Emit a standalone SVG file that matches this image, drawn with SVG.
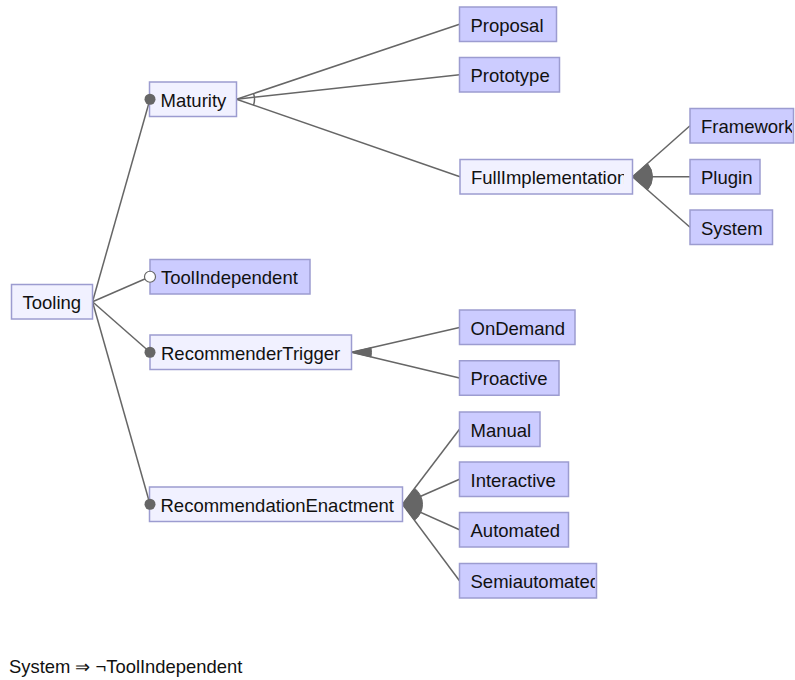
<svg xmlns="http://www.w3.org/2000/svg" width="795" height="680" viewBox="0 0 795 680">
  <style>
    .box { stroke: #9c9cd0; stroke-width: 1.5; }
    .abstract { fill: #f1f1ff; }
    .concrete { fill: #ccccff; }
    .label { font-family: "Liberation Sans", Arial, sans-serif; font-size: 18.5px; fill: #111; }
    .edge { stroke: #666; stroke-width: 1.5; fill: none; }
    .wedge { fill: #666; stroke: #666; stroke-width: 1; }
    .mand { fill: #666; }
    .opt { fill: #fff; stroke: #666; stroke-width: 1.2; }
    .constraint { font-family: "Liberation Sans", Arial, sans-serif; font-size: 18.4px; fill: #111; }
  </style>
  <defs>
    <clipPath id="clip-full"><rect x="460" y="159.5" width="164" height="34.5"/></clipPath>
    <clipPath id="clip-semi"><rect x="459.5" y="563.5" width="135.5" height="34.5"/></clipPath>
    <clipPath id="clip-frame"><rect x="690" y="108.5" width="102" height="34.5"/></clipPath>
  </defs>
  <rect width="795" height="680" fill="#fff"/>

  <!-- connectors -->
  <g id="connectors">
    <!-- Tooling children -->
    <line class="edge" x1="92.5" y1="301.75" x2="150" y2="99.25"/>
    <line class="edge" x1="92.5" y1="301.75" x2="150" y2="276.75"/>
    <line class="edge" x1="92.5" y1="301.75" x2="150" y2="352.25"/>
    <line class="edge" x1="92.5" y1="301.75" x2="150" y2="504.25"/>
    <!-- Maturity: alternative -->
    <line class="edge" x1="236.5" y1="99.25" x2="459.5" y2="24.25"/>
    <line class="edge" x1="236.5" y1="99.25" x2="459.5" y2="74.75"/>
    <line class="edge" x1="236.5" y1="99.25" x2="460" y2="176.75"/>
    <path class="edge" stroke-width="1.2" d="M253.56,93.51 A18,18 0 0 1 253.51,105.15"/>
    <!-- FullImplementation: or -->
    <line class="edge" x1="632.5" y1="176.75" x2="690" y2="125.75"/>
    <line class="edge" x1="632.5" y1="176.75" x2="690" y2="176.75"/>
    <line class="edge" x1="632.5" y1="176.75" x2="690" y2="227.25"/>
    <path class="wedge" d="M632.5,176.75 L647.46,163.48 A20,20 0 0 1 647.53,189.95 Z"/>
    <!-- RecommenderTrigger: or -->
    <line class="edge" x1="351.5" y1="352.25" x2="459.5" y2="327.5"/>
    <line class="edge" x1="351.5" y1="352.25" x2="459.5" y2="378"/>
    <path class="wedge" d="M351.5,352.25 L370.99,347.79 A20,20 0 0 1 370.96,356.89 Z"/>
    <!-- RecommendationEnactment: or -->
    <line class="edge" x1="402.5" y1="504.25" x2="459.5" y2="429.25"/>
    <line class="edge" x1="402.5" y1="504.25" x2="459.5" y2="479.25"/>
    <line class="edge" x1="402.5" y1="504.25" x2="459.5" y2="529.75"/>
    <line class="edge" x1="402.5" y1="504.25" x2="459.5" y2="580.75"/>
    <path class="wedge" d="M402.5,504.25 L414.6,488.33 A20,20 0 0 1 414.45,520.29 Z"/>
  </g>

  <!-- features -->
  <g id="Tooling">
    <rect class="box abstract" x="11.5" y="284.5" width="81" height="34.5"/>
    <text class="label" x="22.5" y="309">Tooling</text>
  </g>
  <g id="Maturity">
    <rect class="box abstract" x="149.5" y="82" width="87" height="34.5"/>
    <text class="label" x="160.5" y="106.5">Maturity</text>
    <circle class="mand" cx="150" cy="99.25" r="5.5"/>
  </g>
  <g id="ToolIndependent">
    <rect class="box concrete" x="150" y="259.5" width="160" height="34.5"/>
    <text class="label" x="161" y="284">ToolIndependent</text>
    <circle class="opt" cx="150" cy="276.75" r="5.5"/>
  </g>
  <g id="RecommenderTrigger">
    <rect class="box abstract" x="150" y="335" width="201.5" height="34.5"/>
    <text class="label" x="161" y="359.5">RecommenderTrigger</text>
    <circle class="mand" cx="150" cy="352.25" r="5.5"/>
  </g>
  <g id="RecommendationEnactment">
    <rect class="box abstract" x="149.5" y="487" width="253" height="34.5"/>
    <text class="label" x="160.5" y="511.5">RecommendationEnactment</text>
    <circle class="mand" cx="150" cy="504.25" r="5.5"/>
  </g>
  <g id="Proposal">
    <rect class="box concrete" x="459.5" y="7" width="97" height="34.5"/>
    <text class="label" x="470.5" y="31.5">Proposal</text>
  </g>
  <g id="Prototype">
    <rect class="box concrete" x="459.5" y="57.5" width="100" height="34.5"/>
    <text class="label" x="470.5" y="82">Prototype</text>
  </g>
  <g id="FullImplementation">
    <rect class="box abstract" x="460" y="159.5" width="172.5" height="34.5"/>
    <text class="label" x="471" y="184" clip-path="url(#clip-full)">FullImplementation</text>
  </g>
  <g id="Framework">
    <rect class="box concrete" x="690" y="108.5" width="103.5" height="34.5"/>
    <text class="label" x="701" y="133" clip-path="url(#clip-frame)">Framework</text>
  </g>
  <g id="Plugin">
    <rect class="box concrete" x="690" y="159.5" width="70" height="34.5"/>
    <text class="label" x="701" y="184">Plugin</text>
  </g>
  <g id="System">
    <rect class="box concrete" x="690" y="210" width="82.5" height="34.5"/>
    <text class="label" x="701" y="234.5">System</text>
  </g>
  <g id="OnDemand">
    <rect class="box concrete" x="459.5" y="310" width="115.5" height="34.5"/>
    <text class="label" x="470.5" y="334.5">OnDemand</text>
  </g>
  <g id="Proactive">
    <rect class="box concrete" x="459.5" y="360.75" width="99.5" height="34.5"/>
    <text class="label" x="470.5" y="385.25">Proactive</text>
  </g>
  <g id="Manual">
    <rect class="box concrete" x="459.5" y="412" width="80.5" height="34.5"/>
    <text class="label" x="470.5" y="436.5">Manual</text>
  </g>
  <g id="Interactive">
    <rect class="box concrete" x="459.5" y="462" width="109" height="34.5"/>
    <text class="label" x="470.5" y="486.5">Interactive</text>
  </g>
  <g id="Automated">
    <rect class="box concrete" x="459.5" y="512.5" width="109" height="34.5"/>
    <text class="label" x="470.5" y="537">Automated</text>
  </g>
  <g id="Semiautomated">
    <rect class="box concrete" x="459.5" y="563.5" width="137" height="34.5"/>
    <text class="label" x="470.5" y="588" clip-path="url(#clip-semi)">Semiautomated</text>
  </g>

  <!-- cross-tree constraint -->
  <text class="constraint" x="9" y="673">System ⇒ ¬ToolIndependent</text>
</svg>
